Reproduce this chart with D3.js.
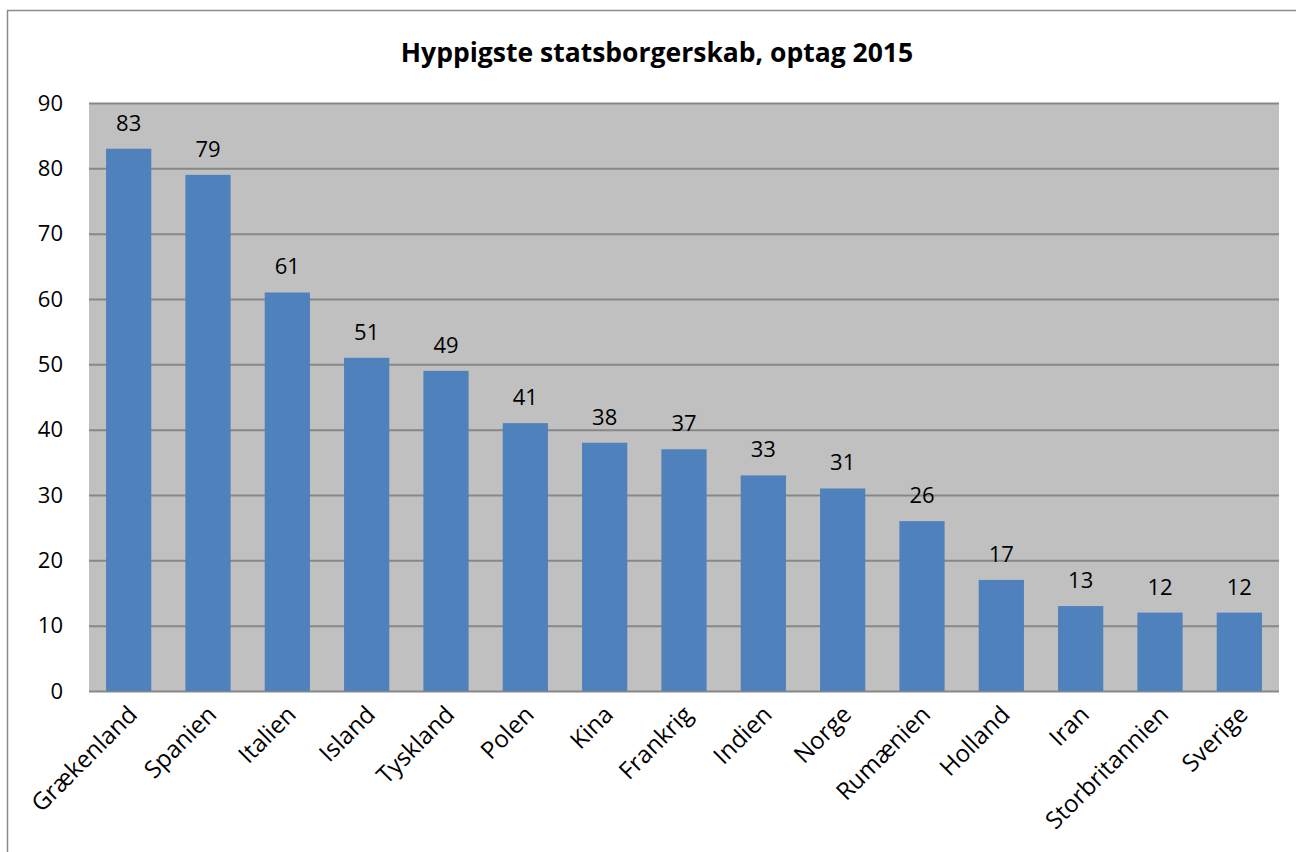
<!DOCTYPE html>
<html lang="da">
<head>
<meta charset="UTF-8" />
<title>Hyppigste statsborgerskab</title>
<script src="https://d3js.org/d3.v7.min.js"></script>
<style>
  body { margin: 0; background: #fff; }
  text { font-family: "Open Sans", Lato, sans-serif; fill: #000; }
  .gridlines line { stroke: #878787; stroke-width: 2; }
  .gridlines .domain { stroke: none; }
</style>
</head>
<body>
<svg id="chart" width="1296" height="852"></svg>
<script>
const countries = ["Grækenland", "Spanien", "Italien", "Island", "Tyskland", "Polen", "Kina",
  "Frankrig", "Indien", "Norge", "Rumænien", "Holland", "Iran", "Storbritannien", "Sverige"];
const counts = [83, 79, 61, 51, 49, 41, 38, 37, 33, 31, 26, 17, 13, 12, 12];
const yTicks = [0, 10, 20, 30, 40, 50, 60, 70, 80, 90];
const titleText = "Hyppigste statsborgerskab, optag 2015";

{
  const svg = d3.select("svg#chart");
  const margins = { top: 103, right: 17, bottom: 161, left: 89 };
  const chartWidth = 1296 - margins.left - margins.right;
  const chartHeight = 852 - margins.top - margins.bottom;
  const font = "'Open Sans', Lato, sans-serif";

  // outer frame
  svg.append("rect")
    .attr("x", 7.5).attr("y", 10.5)
    .attr("width", 1300).attr("height", 860)
    .attr("fill", "none").attr("stroke", "#8c8c8c").attr("stroke-width", 1.5);

  svg.append("text")
    .attr("x", 657).attr("y", 62)
    .attr("text-anchor", "middle")
    .style("font-size", "26.5px").style("font-weight", "bold")
    .text(titleText);

  const chartArea = svg.append("g")
    .attr("transform", `translate(${margins.left},${margins.top})`);

  const xScale = d3.scaleBand()
    .domain(countries)
    .range([0, chartWidth])
    .paddingInner(0.43)
    .paddingOuter(0.215);

  const yScale = d3.scaleLinear()
    .domain([0, 90])
    .range([chartHeight, 0]);

  chartArea.append("rect")
    .attr("width", chartWidth).attr("height", chartHeight)
    .attr("fill", "#c0c0c0");

  chartArea.append("g")
    .attr("class", "gridlines")
    .call(d3.axisLeft(yScale).tickValues(yTicks).tickFormat("").tickSize(-chartWidth));

  chartArea.selectAll("rect.bar")
    .data(countries)
    .join("rect")
    .attr("class", "bar")
    .attr("x", d => xScale(d))
    .attr("y", (d, i) => yScale(counts[i]))
    .attr("width", xScale.bandwidth())
    .attr("height", (d, i) => chartHeight - yScale(counts[i]))
    .attr("fill", "#4f81bd");

  chartArea.selectAll("text.value")
    .data(countries)
    .join("text")
    .attr("class", "value")
    .attr("x", d => xScale(d) + xScale.bandwidth() / 2)
    .attr("y", (d, i) => yScale(counts[i]) - 18)
    .attr("text-anchor", "middle")
    .style("font-size", "22px")
    .text((d, i) => counts[i]);

  // y axis labels
  const leftAxis = d3.axisLeft(yScale).tickValues(yTicks).tickSize(0).tickPadding(26);
  const yAxis = chartArea.append("g").call(leftAxis);
  yAxis.select(".domain").remove();
  yAxis.selectAll("text").style("font-size", "22px").style("font-family", font).attr("fill", "#000");

  // x axis labels, rotated
  const xAxis = chartArea.append("g")
    .attr("transform", `translate(0,${chartHeight})`)
    .call(d3.axisBottom(xScale).tickSize(0));
  xAxis.select(".domain").remove();
  xAxis.selectAll("text")
    .style("font-size", "24px").style("font-family", font).attr("fill", "#000")
    .attr("text-anchor", "end")
    .attr("dy", null).attr("y", 0)
    .attr("transform", "translate(10,25) rotate(-45)");
}
</script>
</body>
</html>
